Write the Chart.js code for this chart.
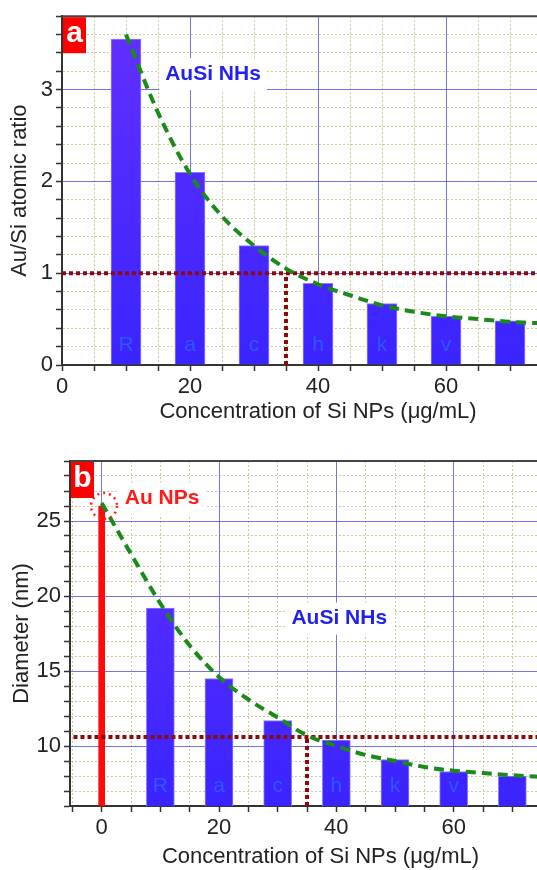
<!DOCTYPE html>
<html>
<head>
<meta charset="utf-8">
<script src="https://cdn.jsdelivr.net/npm/chart.js@4.4.0/dist/chart.umd.min.js"></script>
<style>
  html, body { margin: 0; padding: 0; background: #fff; width: 537px; height: 870px; overflow: hidden; }
  .panel { position: absolute; left: 0; }
</style>
</head>
<body>
<div class="panel" style="top:0"><canvas id="chartA" width="600" height="435"></canvas></div>
<div class="panel" style="top:435px"><canvas id="chartB" width="600" height="435"></canvas></div>
<script>
// bar positions (Si NPs concentration, µg/mL) and the faint letters inside the bars
const concentrations = [10, 20, 30, 40, 50, 60, 70];
const barLetters = ['R', 'a', 'c', 'h', 'k', 'v', ''];

// panel a - Au/Si atomic ratio
const ratios = [3.55, 2.10, 1.30, 0.89, 0.67, 0.53, 0.48];
const ratioFitX = [10, 15, 20, 25, 30, 35, 40, 45, 50, 55, 60, 65, 70, 75, 80];
const ratioFitY = [3.6, 2.75, 2.08, 1.62, 1.30, 1.05, 0.88, 0.76, 0.65, 0.58, 0.53, 0.50, 0.47, 0.455, 0.445];
const ratioCross = [35, 1.0];

// panel b - diameter (nm)
const auNpDiameter = 26;
const diameters = [19.2, 14.5, 11.7, 10.4, 9.1, 8.3, 8.0];
const diamFitX = [0, 5, 10, 15, 20, 25, 30, 35, 40, 45, 50, 55, 60, 65, 70, 75, 80];
const diamFitY = [26.2, 22.8, 19.5, 16.7, 14.6, 13.1, 11.9, 10.7, 10.0, 9.4, 9.0, 8.6, 8.35, 8.2, 8.05, 7.95, 7.9];
const diamCross = [35, 10.6];

Chart.defaults.font.family = "'Liberation Sans', Arial, sans-serif";
Chart.defaults.color = '#222';

const FONT = "'Liberation Sans', Arial, sans-serif";

function isMajor(v, step) {
  return Math.abs(v / step - Math.round(v / step)) < 1e-6;
}

function gridOpts(step) {
  return {
    color: c => (c.tick && isMajor(c.tick.value, step)) ? 'rgba(70,70,225,0.75)' : 'rgba(160,160,70,0.55)',
    lineWidth: 1,
    offset: false,
    tickLength: 6,
    tickWidth: 1.5,
    tickColor: '#333'
  };
}

function borderOpts(step) {
  return {
    color: '#333',
    width: 2,
    dash: c => (c.tick && !isMajor(c.tick.value, step)) ? [2, 2] : []
  };
}

function barFill(ctx) {
  const area = ctx.chart.chartArea;
  if (!area) return '#4a2aff';
  const g = ctx.chart.ctx.createLinearGradient(0, area.top, 0, area.bottom);
  g.addColorStop(0, '#6230ff');
  g.addColorStop(1, '#3a24ff');
  return g;
}

function pts(xs, ys) {
  return xs.map((x, i) => ({ x: x, y: ys[i] }));
}

function boxedText(chart, text, x, y, color) {
  const c = chart.ctx;
  const px = chart.scales.x.getPixelForValue(x);
  const py = chart.scales.y.getPixelForValue(y);
  c.save();
  c.font = 'bold 21px ' + FONT;
  const w = c.measureText(text).width;
  c.fillStyle = '#fff';
  c.fillRect(px - w / 2 - 6, py - 16, w + 12, 32);
  c.fillStyle = color;
  c.textAlign = 'center';
  c.textBaseline = 'middle';
  c.fillText(text, px, py);
  c.restore();
}

function decor(tag, labels, extra) {
  return {
    id: 'decor',
    beforeDatasetsDraw(chart) {
      labels.forEach(l => boxedText(chart, l.text, l.x, l.y, l.color));
    },
    afterDatasetsDraw(chart) {
      const c = chart.ctx, area = chart.chartArea;
      c.save();
      c.font = '21px ' + FONT;
      c.fillStyle = 'rgba(45,95,255,0.85)';
      c.textAlign = 'center';
      c.textBaseline = 'middle';
      concentrations.forEach((x, i) => {
        c.fillText(barLetters[i], chart.scales.x.getPixelForValue(x), area.bottom - 20);
      });
      c.restore();
      if (extra) extra(chart);
    },
    afterDraw(chart) {
      const c = chart.ctx, area = chart.chartArea;
      c.save();
      c.strokeStyle = '#444';
      c.lineWidth = 2;
      c.beginPath();
      c.moveTo(area.left, area.top);
      c.lineTo(area.right, area.top);
      c.stroke();
      c.fillStyle = '#ff0000';
      c.fillRect(area.left + 1, area.top + 1, 23, 36);
      c.fillStyle = '#fff';
      c.font = 'bold 30px ' + FONT;
      c.textAlign = 'center';
      c.textBaseline = 'middle';
      c.fillText(tag, area.left + 12.5, area.top + 18);
      c.restore();
    }
  };
}

const fitStyle = {
  type: 'line', borderColor: '#1a8a1a', borderWidth: 4, borderDash: [10, 6],
  pointRadius: 0, fill: false, cubicInterpolationMode: 'monotone', order: 0
};
const crossStyle = {
  type: 'line', borderColor: '#8b0a0a', borderWidth: 4, borderDash: [4, 3],
  pointRadius: 0, fill: false, tension: 0, order: 1
};

// PANEL A
new Chart(document.getElementById('chartA'), {
  type: 'bar',
  data: {
    datasets: [
      Object.assign({ data: pts(ratioFitX, ratioFitY) }, fitStyle),
      Object.assign({ data: [{ x: 0, y: ratioCross[1] }, { x: 80, y: ratioCross[1] }] }, crossStyle),
      Object.assign({ data: [{ x: ratioCross[0], y: 0 }, { x: ratioCross[0], y: ratioCross[1] }] }, crossStyle),
      {
        type: 'bar', data: pts(concentrations, ratios), backgroundColor: barFill,
        borderColor: '#8c7dff', borderWidth: 1, barThickness: 30, grouped: false, order: 2
      }
    ]
  },
  options: {
    responsive: false, animation: false, devicePixelRatio: 1,
    layout: { padding: { top: 14, right: 26, left: 0, bottom: 0 } },
    plugins: { legend: { display: false }, tooltip: { enabled: false } },
    scales: {
      x: {
        type: 'linear', min: 0, max: 80, offset: false,
        ticks: { stepSize: 5, autoSkip: false, maxRotation: 0, includeBounds: false, font: { size: 22 },
          callback: v => isMajor(v, 20) ? v : '' },
        grid: gridOpts(20), border: borderOpts(20),
        title: { display: true, text: 'Concentration of Si NPs (μg/mL)', font: { size: 22 }, padding: { top: 0, bottom: 10 } },
        afterFit: s => { s.height = 70; }
      },
      y: {
        type: 'linear', min: 0, max: 3.8,
        ticks: { stepSize: 0.2, autoSkip: false, includeBounds: false, font: { size: 22 },
          callback: v => isMajor(v, 1) ? Math.round(v) : '' },
        grid: gridOpts(1), border: borderOpts(1),
        title: { display: true, text: 'Au/Si atomic ratio', font: { size: 22 }, padding: { top: 7, bottom: 0 } },
        afterFit: s => { s.width = 62; }
      }
    }
  },
  plugins: [decor('a', [{ text: 'AuSi NHs', x: 23.6, y: 3.17, color: '#2222ee' }])]
});

// PANEL B
new Chart(document.getElementById('chartB'), {
  type: 'bar',
  data: {
    datasets: [
      Object.assign({ data: pts(diamFitX, diamFitY) }, fitStyle),
      Object.assign({ data: [{ x: -6, y: diamCross[1] }, { x: 80, y: diamCross[1] }] }, crossStyle),
      Object.assign({ data: [{ x: diamCross[0], y: 6 }, { x: diamCross[0], y: diamCross[1] }] }, crossStyle),
      {
        type: 'bar', data: [{ x: 0, y: auNpDiameter }], backgroundColor: '#ff0a0a',
        borderWidth: 0, barThickness: 6, grouped: false, order: 2
      },
      {
        type: 'bar', data: pts(concentrations, diameters), backgroundColor: barFill,
        borderColor: '#8c7dff', borderWidth: 1, barThickness: 28, grouped: false, order: 2
      }
    ]
  },
  options: {
    responsive: false, animation: false, devicePixelRatio: 1,
    layout: { padding: { top: 26, right: 29, left: 0, bottom: 0 } },
    plugins: { legend: { display: false }, tooltip: { enabled: false } },
    scales: {
      x: {
        type: 'linear', min: -5.4, max: 80, offset: false,
        ticks: { stepSize: 5, autoSkip: false, maxRotation: 0, includeBounds: false, font: { size: 22 },
          callback: v => isMajor(v, 20) ? v : '' },
        grid: gridOpts(20), border: borderOpts(20),
        title: { display: true, text: 'Concentration of Si NPs (μg/mL)', font: { size: 22 }, padding: { top: 0, bottom: 0 } },
        afterFit: s => { s.height = 64; }
      },
      y: {
        type: 'linear', min: 6, max: 29,
        ticks: { stepSize: 1, autoSkip: false, includeBounds: false, font: { size: 22 },
          callback: v => isMajor(v, 5) && v >= 10 ? v : '' },
        grid: gridOpts(5), border: borderOpts(5),
        title: { display: true, text: 'Diameter (nm)', font: { size: 22 }, padding: { top: 9, bottom: 0 } },
        afterFit: s => { s.width = 70; }
      }
    }
  },
  plugins: [decor('b', [
    { text: 'AuSi NHs', x: 40.5, y: 18.5, color: '#2222ee' },
    { text: 'Au NPs', x: 10.3, y: 26.5, color: '#ff1a1a' }
  ], chart => {
    // dotted ring around the Au NPs bar top
    const c = chart.ctx;
    c.save();
    c.strokeStyle = '#ff2020';
    c.lineWidth = 2.5;
    c.setLineDash([2, 4]);
    c.beginPath();
    c.arc(chart.scales.x.getPixelForValue(0.4), chart.scales.y.getPixelForValue(26), 13, 0, Math.PI * 2);
    c.stroke();
    c.restore();
  })]
});
</script>
</body>
</html>
